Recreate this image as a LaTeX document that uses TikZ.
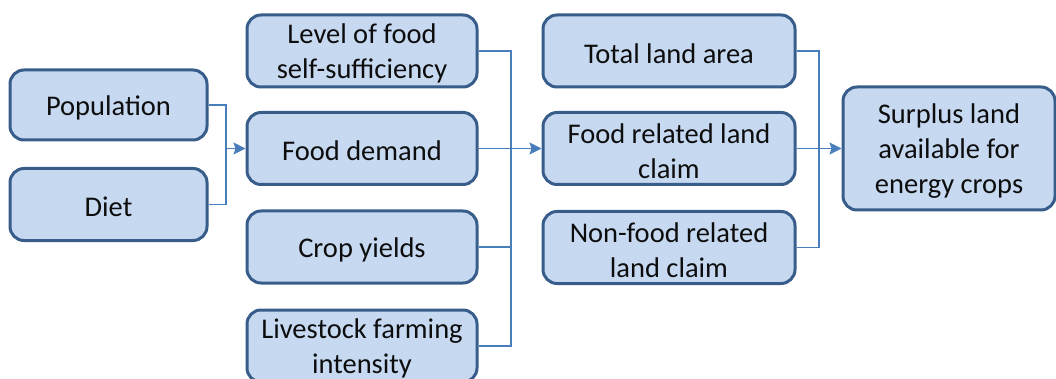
\documentclass[tikz,border=0pt]{standalone}
\usepackage{fontspec}
\setmainfont{Carlito}
\usetikzlibrary{arrows.meta}
\definecolor{boxfill}{RGB}{198,217,241}
\definecolor{boxline}{RGB}{56,93,138}
\definecolor{conn}{RGB}{74,126,187}
\tikzset{
  blk/.style={draw=boxline, fill=boxfill, line width=3pt, rounded corners=14pt, inner sep=0pt},
  lbl/.style={align=center, inner sep=0pt, yshift=-2.5pt,
    font=\fontsize{28.5}{35}\selectfont, text=black!95},
  wire/.style={draw=conn, line width=1.5pt},
  arr/.style={wire, -{Stealth[length=12pt,width=12pt,inset=2pt]}}
}
\begin{document}
\begin{tikzpicture}[x=1pt,y=-1pt]
\useasboundingbox (0,0) rectangle (1056,379);
\begin{scope}
\clip (0,0) rectangle (1056,379);
\node[blk, minimum width=197pt, minimum height=70pt, label={[lbl]center:Population}] (pop) at (108.5,105) {};
\node[blk, minimum width=197pt, minimum height=72pt, label={[lbl]center:Diet}] (diet) at (108.5,204.5) {};
\node[blk, minimum width=230pt, minimum height=72pt, label={[lbl]center:{Level of food\\self-sufficiency}}] (level) at (362,51) {};
\node[blk, minimum width=230pt, minimum height=72pt, label={[lbl]center:Food demand}] (demand) at (362,148.5) {};
\node[blk, minimum width=230pt, minimum height=72pt, label={[lbl]center:Crop yields}] (crop) at (362,247) {};
\node[blk, minimum width=230pt, minimum height=72pt, label={[lbl]center:{Livestock farming\\intensity}}] (live) at (362,346) {};
\node[blk, minimum width=252pt, minimum height=72pt, label={[lbl]center:Total land area}] (total) at (669,51) {};
\node[blk, minimum width=252pt, minimum height=72pt, label={[lbl]center:{Food related land\\claim}}] (fclaim) at (669,148.5) {};
\node[blk, minimum width=252pt, minimum height=72pt, label={[lbl]center:{Non-food related\\land claim}}] (nfclaim) at (669,247.5) {};
\node[blk, minimum width=212pt, minimum height=123pt, label={[lbl]center:{Surplus land\\available for\\energy crops}}] (surplus) at (949,148.5) {};

\coordinate (j1) at (226,148.5);
\coordinate (t2) at (511,346);
\coordinate (t3) at (819,247.5);

\draw[wire] (pop.east) -| (j1) |- (diet.east);
\draw[arr] (j1) -- (demand.west);

\draw[wire] (level.east) -| (t2) -- (live.east);
\draw[wire] (crop.east) -- (crop.east -| t2);
\draw[arr] (demand.east) -- (fclaim.west);

\draw[wire] (total.east) -| (t3) -- (nfclaim.east);
\draw[arr] (fclaim.east) -- (surplus.west);
\end{scope}
\end{tikzpicture}
\end{document}
